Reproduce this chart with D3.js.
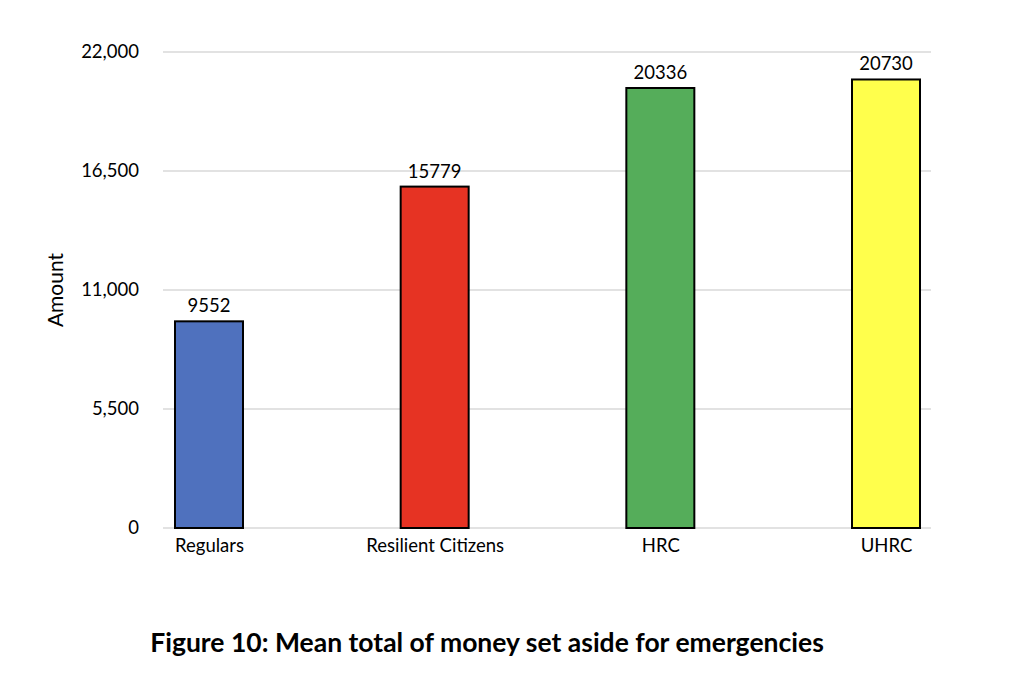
<!DOCTYPE html>
<html><head><meta charset="utf-8">
<script src="https://cdn.jsdelivr.net/npm/d3@7"></script>
<style>body{margin:0;background:#fff}svg{display:block}text{font-family:Lato,"Open Sans",sans-serif}</style>
</head><body>
<svg id="c" width="1024" height="697"></svg>
<script>
const categories = ["Regulars", "Resilient Citizens", "HRC", "UHRC"];
const values = [9552, 15779, 20336, 20730];
const colors = ["#4F71BE", "#E63323", "#55AD5A", "#FFFF4C"];
const yTicks = [0, 5500, 11000, 16500, 22000];
const titleText = "Figure 10: Mean total of money set aside for emergencies";

const svg = d3.select("#c");
const y = d3.scaleLinear().domain([0, 22000]).range([528, 52]);
const x = d3.scalePoint().domain(categories).range([209, 886]);
const bw = 68;

svg.append("g").selectAll("line").data(yTicks).join("line")
  .attr("x1", 163).attr("x2", 931)
  .attr("y1", d => y(d)).attr("y2", d => y(d))
  .attr("stroke", "#d9d9d9").attr("stroke-width", 1.5);

const ya = svg.append("g").attr("transform", "translate(150,0)")
  .call(d3.axisLeft(y).tickValues(yTicks).tickSize(0).tickPadding(0).tickFormat(d3.format(",")));
ya.select(".domain").remove();
ya.selectAll("text").attr("font-size", 18.5).attr("fill", "#000").attr("x", -11);

const xa = svg.append("g").attr("transform", "translate(0,537)")
  .call(d3.axisBottom(x).tickSize(0).tickPadding(0));
xa.select(".domain").remove();
xa.selectAll("text").attr("font-size", 18.5).attr("fill", "#000").attr("dy", "0.8em");

svg.append("g").selectAll("rect").data(values).join("rect")
  .attr("x", (d, i) => x(categories[i]) - bw / 2)
  .attr("width", bw)
  .attr("y", d => y(d))
  .attr("height", d => y(0) - y(d))
  .attr("fill", (d, i) => colors[i])
  .attr("stroke", "#000").attr("stroke-width", 2);

svg.append("g").selectAll("text").data(values).join("text")
  .attr("x", (d, i) => x(categories[i]))
  .attr("y", d => y(d) - 9)
  .attr("text-anchor", "middle").attr("font-size", 18.5).attr("fill", "#000")
  .text(d => d);

svg.append("text").attr("transform", "translate(63,290) rotate(-90)")
  .attr("text-anchor", "middle").attr("font-size", 21).attr("fill", "#000").text("Amount");

svg.append("text").attr("x", 487).attr("y", 652).attr("text-anchor", "middle")
  .attr("font-size", 26.5).attr("font-weight", "bold").attr("fill", "#000").text(titleText);
</script>
</body></html>
